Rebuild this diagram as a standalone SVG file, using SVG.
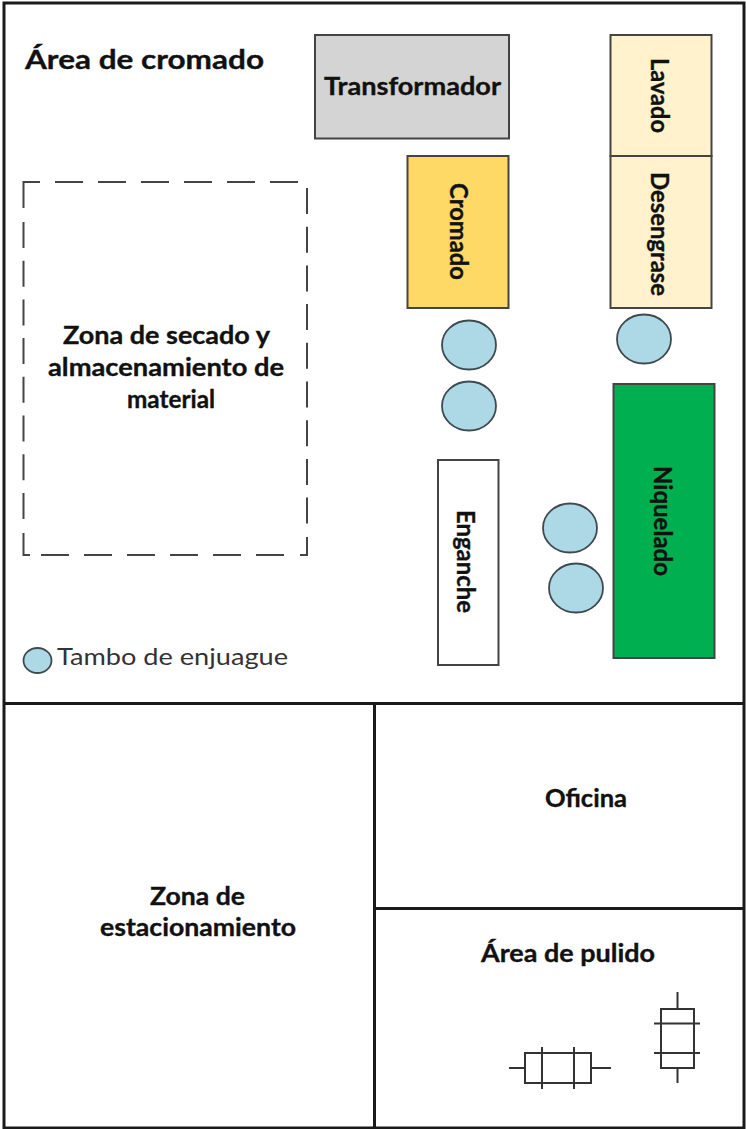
<svg xmlns="http://www.w3.org/2000/svg" width="746" height="1129" viewBox="0 0 746 1129">
<style>
text{font-family:Lato,"Liberation Sans",sans-serif;fill:#111;stroke:#111;stroke-width:.35;font-weight:700;font-size:24px;text-anchor:middle}
.box{stroke:#444;stroke-width:2}
.tank{fill:#add8e6;stroke:#3f4a4f;stroke-width:1.8}
.wall{fill:none;stroke:#1a1a1a;stroke-width:3}
.m{fill:none;stroke:#333;stroke-width:2}
.d{fill:none;stroke:#444;stroke-width:2}
.dh{stroke-dasharray:28 15}
.dv{stroke-dasharray:26 12.700}
</style>
<rect width="746" height="1129" fill="#fff"/>
<g id="walls">
<path class="wall" d="M4 3H744V1128H4ZM4 703.500H744M374.500 703.500V1128M374.500 908.500H744"/>
</g>
<g id="titulo"><text x="144.500" y="69" style="font-size:27px" textLength="239" lengthAdjust="spacingAndGlyphs">Área de cromado</text></g>
<g id="transformador"><rect class="box" x="315" y="35" width="194" height="103.500" fill="#d4d4d4"/><text x="412.500" y="95" textLength="177" lengthAdjust="spacingAndGlyphs">Transformador</text></g>
<g id="lavado"><rect class="box" x="610.500" y="35" width="101" height="121" fill="#fff2cc"/><text transform="translate(651,95.500) rotate(90)" textLength="75" lengthAdjust="spacingAndGlyphs">Lavado</text></g>
<g id="desengrase"><rect class="box" x="610.500" y="156" width="101" height="152" fill="#fff2cc"/><text transform="translate(651,234) rotate(90)" textLength="124" lengthAdjust="spacingAndGlyphs">Desengrase</text></g>
<g id="cromado"><rect class="box" x="407.500" y="156" width="101" height="152" fill="#ffd966"/><text transform="translate(450,231.500) rotate(90)" textLength="97" lengthAdjust="spacingAndGlyphs">Cromado</text></g>
<g id="zona-secado">
<path class="d" d="M23.500 208V182H40M23.500 533V555H30M300 555H307V537"/>
<path class="d dh" d="M55 182H300M41 555H285"/>
<path class="d dv" d="M23.500 222V522M307 188V525"/>
<text x="166.500" y="344" textLength="207" lengthAdjust="spacingAndGlyphs">Zona de secado y</text><text x="166" y="376" textLength="236" lengthAdjust="spacingAndGlyphs">almacenamiento de</text><text x="171" y="408" textLength="88" lengthAdjust="spacingAndGlyphs">material</text>
</g>
<g id="enganche"><rect class="box" x="438" y="460" width="60.500" height="205" fill="#fff"/><text transform="translate(457,561.500) rotate(90)" textLength="103" lengthAdjust="spacingAndGlyphs">Enganche</text></g>
<g id="niquelado"><rect class="box" x="613.500" y="384" width="101" height="274" fill="#00b050"/><text transform="translate(654,521) rotate(90)" textLength="110" lengthAdjust="spacingAndGlyphs">Niquelado</text></g>
<g id="tambos">
<ellipse class="tank" cx="469" cy="345" rx="27" ry="24.500"/>
<ellipse class="tank" cx="469" cy="406" rx="27" ry="24.500"/>
<ellipse class="tank" cx="644" cy="339" rx="27" ry="24.500"/>
<ellipse class="tank" cx="570" cy="528" rx="27" ry="24.500"/>
<ellipse class="tank" cx="576" cy="588" rx="27" ry="24.500"/>
</g>
<g id="leyenda">
<ellipse class="tank" cx="37.500" cy="660.500" rx="14" ry="12.500"/>
<text x="172.500" y="665" style="font-weight:400;font-size:24px;fill:#333;stroke:none" textLength="231" lengthAdjust="spacingAndGlyphs">Tambo de enjuague</text>
</g>
<g id="estacionamiento"><text x="197.500" y="905" textLength="95" lengthAdjust="spacingAndGlyphs">Zona de</text><text x="198" y="936" textLength="196" lengthAdjust="spacingAndGlyphs">estacionamiento</text></g>
<g id="oficina"><text x="586" y="807" textLength="82" lengthAdjust="spacingAndGlyphs">Oficina</text></g>
<g id="pulido"><text x="568" y="962" textLength="174" lengthAdjust="spacingAndGlyphs">Área de pulido</text>
<path class="m" d="M525 1053H591V1083H525ZM509 1068H525M591 1068H611M542 1047V1089M574 1047V1089"/>
<path class="m" d="M661 1009H694V1068H661ZM677.500 992V1009M677.500 1068V1083M654 1023.500H700M654 1053H700"/>
</g>
</svg>
